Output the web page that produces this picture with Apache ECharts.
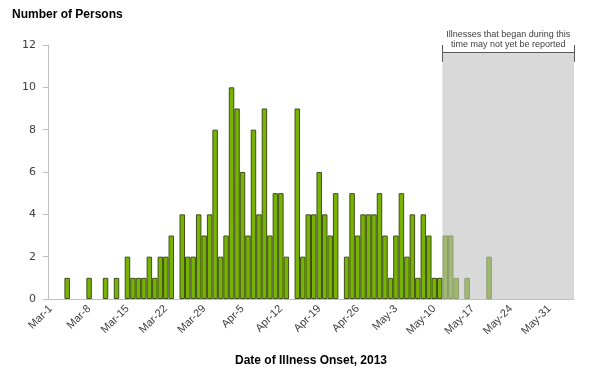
<!DOCTYPE html>
<html>
<head>
<meta charset="utf-8">
<script src="https://cdn.jsdelivr.net/npm/echarts@6/dist/echarts.min.js"></script>
<style>
  html, body { margin: 0; padding: 0; background: #fff; }
  #chart { width: 600px; height: 375px; }
</style>
</head>
<body>
<div id="chart"></div>
<script>
// days shown per month, Mar-1 .. Jun-4 2013
const months = [['Mar', 31], ['Apr', 30], ['May', 31], ['Jun', 4]];

// cases by onset date, Mar-1 .. May-11
const reported = [
  0, 0, 0, 1, 0, 0, 0, 1, 0, 0, 1, 0, 1, 0, 2, 1, 1, 1, 2, 1, 2, 2, 3, 0, 4, 2, 2, 4, 3, 4, 8,
  2, 3, 10, 9, 6, 3, 8, 4, 9, 3, 5, 5, 2, 0, 9, 2, 4, 4, 6, 4, 3, 5, 0, 2, 5, 3, 4, 4, 4, 5,
  3, 1, 3, 5, 2, 4, 1, 4, 3, 1, 1
];
// May-12 .. Jun-4 (may not yet be reported)
const pending = [3, 3, 1, 0, 1, 0, 0, 0, 2, 0, 0, 0, 0, 0, 0, 0, 0, 0, 0, 0, 0, 0, 0, 0];

const yTicks = { min: 0, max: 12, step: 2 };
const noteText = 'Illnesses that began during this\ntime may not yet be reported';

const categories = [];
months.forEach(([m, n]) => {
  for (let d = 1; d <= n; d++) categories.push(m + '-' + d);
});

const nulls = n => new Array(n).fill(null);
const clean = v => (v === 0 ? null : v);
const reportedData = reported.map(clean).concat(nulls(pending.length));
const pendingData = nulls(reported.length).concat(pending.map(clean));

const start = reported.length;
const end = categories.length;
const shadeTop = 11.65;

const chart = echarts.init(document.getElementById('chart'), null, { renderer: 'canvas' });

chart.setOption({
  animation: false,
  title: {
    text: 'Number of Persons',
    left: 7,
    top: 4,
    textStyle: { fontFamily: 'Liberation Sans', fontSize: 12, fontWeight: 'bold', color: '#000' }
  },
  grid: { left: 48, right: 26, top: 45, bottom: 76 },
  xAxis: [
    {
      type: 'category',
      data: categories,
      name: 'Date of Illness Onset, 2013',
      nameLocation: 'middle',
      nameGap: 56,
      nameTextStyle: { fontFamily: 'Liberation Sans', fontSize: 12, fontWeight: 'bold', color: '#000' },
      axisLine: { lineStyle: { color: '#BFBFBF' } },
      axisTick: { interval: 6, length: 5, lineStyle: { color: '#BFBFBF' } },
      axisLabel: {
        interval: 6,
        rotate: 45,
        margin: 8,
        fontFamily: 'Liberation Sans',
        fontSize: 11,
        color: '#404040'
      }
    },
    { type: 'value', min: 0, max: end, show: false }
  ],
  yAxis: {
    type: 'value',
    min: yTicks.min,
    max: yTicks.max,
    interval: yTicks.step,
    splitLine: { show: false },
    axisLine: { show: true, lineStyle: { color: '#BFBFBF' } },
    axisTick: { show: true, length: 5, lineStyle: { color: '#BFBFBF' } },
    axisLabel: { margin: 12, fontFamily: 'DejaVu Sans', fontSize: 11, color: '#404040' }
  },
  series: [
    {
      type: 'line',
      xAxisIndex: 1,
      data: [],
      z: 1,
      silent: true,
      markArea: {
        silent: true,
        itemStyle: { color: '#D9D9D9' },
        label: {
          show: true,
          position: 'top',
          distance: 3,
          formatter: noteText,
          fontFamily: 'Liberation Sans',
          fontSize: 9,
          lineHeight: 10,
          color: '#404040'
        },
        data: [[{ xAxis: start, yAxis: 0 }, { xAxis: end, yAxis: shadeTop }]]
      },
      markLine: {
        silent: true,
        symbol: 'none',
        label: { show: false },
        lineStyle: { color: '#595959', width: 1, type: 'solid' },
        data: [
          [{ coord: [start, shadeTop] }, { coord: [end, shadeTop] }],
          [{ coord: [start, 12] }, { coord: [start, 11.2] }],
          [{ coord: [end, 12] }, { coord: [end, 11.2] }]
        ]
      }
    },
    {
      type: 'bar',
      stack: 'cases',
      data: reportedData,
      z: 3,
      barWidth: '100%',
      itemStyle: { color: '#77B300', borderColor: '#3F4F1C', borderWidth: 1 }
    },
    {
      type: 'bar',
      stack: 'cases',
      data: pendingData,
      z: 3,
      barWidth: '100%',
      itemStyle: { color: '#A2B972', borderColor: '#8E9C72', borderWidth: 1 }
    }
  ]
});
</script>
</body>
</html>
